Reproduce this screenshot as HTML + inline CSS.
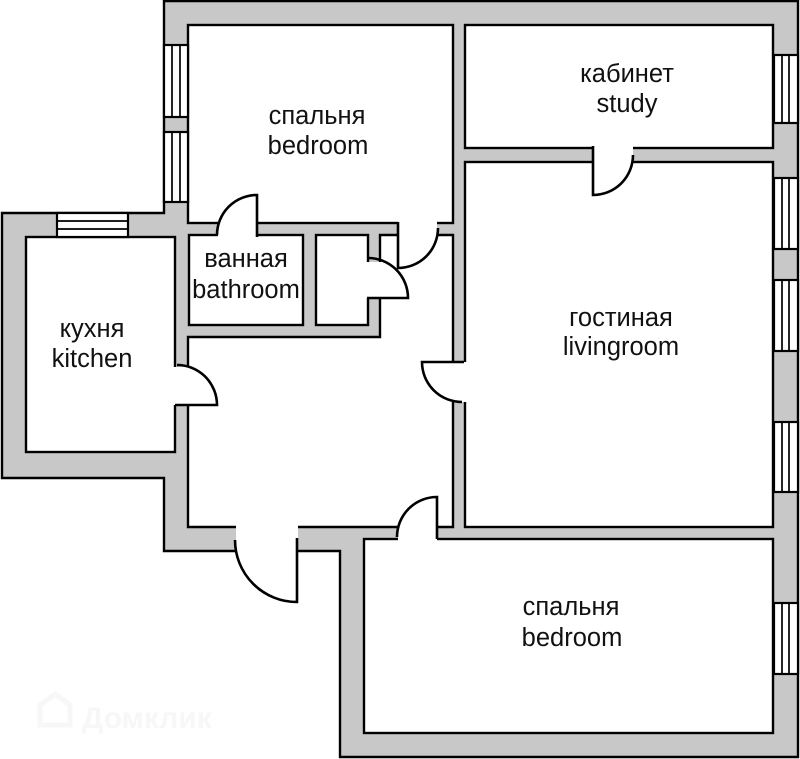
<!DOCTYPE html>
<html>
<head>
<meta charset="utf-8">
<style>
  html, body { margin: 0; padding: 0; background: #fff; }
  svg { display: block; }
  text { font-family: "Liberation Sans", "DejaVu Sans", sans-serif; font-size: 25.5px; fill: #111; }
</style>
</head>
<body>
<svg width="800" height="759" viewBox="0 0 800 759" xmlns="http://www.w3.org/2000/svg">
  <rect x="0" y="0" width="800" height="759" fill="#fff"/>

  <!-- watermark -->
  <text x="82" y="728" style="font-size:30px;font-weight:bold;fill:#f7f7f7;">Домклик</text>
  <path d="M40,725 L40,705 L55,694 L70,705 L70,725 Z" fill="none" stroke="#f7f7f7" stroke-width="5"/>

  <!-- outer wall mass -->
  <polygon points="164,1 798,1 798,757 340,757 340,551 164,551 164,478 2,478 2,213 164,213"
           fill="#c8c8c8" stroke="#000" stroke-width="2.4"/>

  <!-- rooms -->
  <g fill="#fff" stroke="#000" stroke-width="2.4">
    <rect x="188" y="25" width="265" height="198"/>
    <rect x="465" y="25" width="308" height="123"/>
    <rect x="465" y="162" width="308" height="365"/>
    <rect x="364" y="539" width="409" height="194"/>
    <rect x="26" y="237" width="149" height="215"/>
    <rect x="189" y="235" width="114" height="90"/>
    <rect x="316" y="235" width="52" height="90"/>
    <polygon points="380,235 453,235 453,527 188,527 188,337 380,337"/>
  </g>

  <!-- door gaps -->
  <g fill="#fff" stroke="none">
    <rect x="218" y="219" width="39" height="20"/>
    <rect x="398" y="219" width="39" height="20"/>
    <rect x="365" y="262" width="18" height="36"/>
    <rect x="593" y="144" width="40" height="22"/>
    <rect x="449" y="362" width="19" height="40"/>
    <rect x="398" y="523" width="39" height="20"/>
    <rect x="236" y="522" width="62" height="33"/>
    <rect x="171" y="367" width="21" height="38"/>
  </g>

  <!-- doors -->
  <g fill="none" stroke="#000" stroke-width="2.6">
    <path d="M593,146 L593,195 A40,40 0 0 0 633,155"/>
    <path d="M175,405 L217,405 A40,40 0 0 0 177,365"/>
    <path d="M257,237 L257,195 A40,40 0 0 0 217,235"/>
    <path d="M398,222 L398,268 A40,40 0 0 0 438,228"/>
    <path d="M367,298 L408,298 A40,40 0 0 0 368,258"/>
    <path d="M464,362 L422,362 A40,40 0 0 0 462,402"/>
    <path d="M437,539 L437,497 A40,40 0 0 0 397,537"/>
    <path d="M297,538 L297,602 A62,62 0 0 1 235,540"/>
  </g>

  <!-- windows -->
  <g fill="#fff" stroke="#000" stroke-width="2.2">
    <rect x="164" y="45" width="24" height="72"/>
    <rect x="164" y="132" width="24" height="70"/>
    <rect x="57" y="213" width="71" height="24"/>
    <rect x="774" y="55" width="24" height="68"/>
    <rect x="774" y="178" width="24" height="71"/>
    <rect x="774" y="280" width="24" height="71"/>
    <rect x="774" y="422" width="24" height="70"/>
    <rect x="774" y="603" width="24" height="71"/>
  </g>
  <g stroke="#000" stroke-width="1.7">
    <line x1="172" y1="45" x2="172" y2="117"/><line x1="180" y1="45" x2="180" y2="117"/>
    <line x1="172" y1="132" x2="172" y2="202"/><line x1="180" y1="132" x2="180" y2="202"/>
    <line x1="57" y1="221" x2="128" y2="221"/><line x1="57" y1="229" x2="128" y2="229"/>
    <line x1="782" y1="55" x2="782" y2="123"/><line x1="789" y1="55" x2="789" y2="123"/>
    <line x1="782" y1="178" x2="782" y2="249"/><line x1="789" y1="178" x2="789" y2="249"/>
    <line x1="782" y1="280" x2="782" y2="351"/><line x1="789" y1="280" x2="789" y2="351"/>
    <line x1="782" y1="422" x2="782" y2="492"/><line x1="789" y1="422" x2="789" y2="492"/>
    <line x1="782" y1="603" x2="782" y2="674"/><line x1="789" y1="603" x2="789" y2="674"/>
  </g>

  <!-- labels -->
  <g text-anchor="middle">
    <text x="317" y="124">спальня</text>
    <text x="318" y="154">bedroom</text>
    <text x="627" y="82">кабинет</text>
    <text x="627" y="112">study</text>
    <text x="92" y="337">кухня</text>
    <text x="92" y="367">kitchen</text>
    <text x="246" y="267">ванная</text>
    <text x="246" y="298">bathroom</text>
    <text x="621" y="326">гостиная</text>
    <text x="621" y="355">livingroom</text>
    <text x="571" y="615">спальня</text>
    <text x="572" y="646">bedroom</text>
  </g>
</svg>
</body>
</html>
